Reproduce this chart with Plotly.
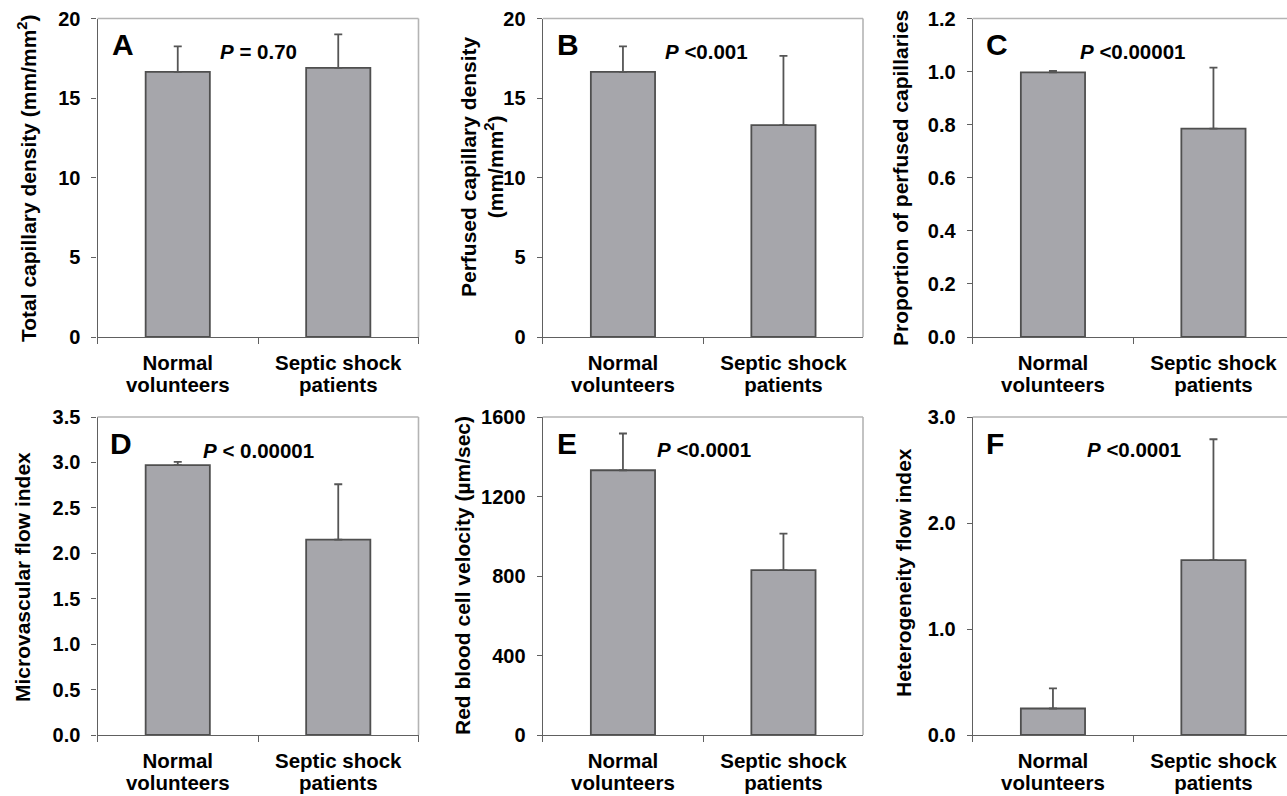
import plotly.graph_objects as go

categories = ["Normal<br>volunteers", "Septic shock<br>patients"]

panel_letters = ["A", "B", "C", "D", "E", "F"]
p_texts = ["<i>P</i> = 0.70", "<i>P</i> <0.001", "<i>P</i> <0.00001",
           "<i>P</i> < 0.00001", "<i>P</i> <0.0001", "<i>P</i> <0.0001"]
y_titles = ["Total capillary density (mm/mm<sup>2</sup>)",
            "Perfused capillary density<br>(mm/mm<sup>2</sup>)",
            "Proportion of perfused capillaries",
            "Microvascular flow index",
            "Red blood cell velocity (µm/sec)",
            "Heterogeneity flow index"]

means_A = [16.65, 16.9]
err_A = [1.6, 2.1]
means_B = [16.65, 13.3]
err_B = [1.6, 4.35]
means_C = [0.997, 0.785]
err_C = [0.006, 0.23]
means_D = [2.97, 2.15]
err_D = [0.035, 0.61]
means_E = [1332, 830]
err_E = [185, 183]
means_F = [0.25, 1.65]
err_F = [0.19, 1.14]

y_ranges = [[0, 20], [0, 20], [0, 1.2], [0, 3.5], [0, 1600], [0, 3.0]]
y_dticks = [5, 5, 0.2, 0.5, 400, 1.0]
y_formats = ["d", "d", ".1f", ".1f", "d", ".1f"]

means = [means_A, means_B, means_C, means_D, means_E, means_F]
errs = [err_A, err_B, err_C, err_D, err_E, err_F]

W, H = 1287, 796
# plot-area pixel boxes (left, right, top, bottom)
cols_px = [(97.5, 418.5), (542.7, 863.0), (972.7, 1287.0)]
rows_px = [(18.5, 337.0), (417.0, 735.0)]
cat_px = 160.5

title_x_px = [27, 482, 900, 22, 462, 903]
title_y_px = [178, 167, 178, 577, 576, 573]
p_dom = [(0.5, 0.895), (0.511, 0.895), (0.51, 0.895), (0.5, 0.896), (0.504, 0.899), (0.513, 0.899)]
letter_dom = [(0.08, 0.917), (0.079, 0.917), (0.076, 0.917), (0.074, 0.917), (0.075, 0.917), (0.072, 0.917)]

FONT = "Liberation Sans, Arial, sans-serif"


def xlabel(t):
    return "<br>".join('<span style="font-size:20.5px"><b>%s</b></span>' % s for s in t.split("<br>"))


fig = go.Figure()
layout = dict(width=W, height=H, margin=dict(l=0, r=0, t=0, b=0, autoexpand=False),
              paper_bgcolor="white", plot_bgcolor="white", showlegend=False)
annotations = []
shapes = []

for i in range(6):
    r, c = divmod(i, 3)
    xl, xr = cols_px[c]
    yt, yb = rows_px[r]
    xa = "xaxis" if i == 0 else f"xaxis{i+1}"
    ya = "yaxis" if i == 0 else f"yaxis{i+1}"
    xref = "x" if i == 0 else f"x{i+1}"
    yref = "y" if i == 0 else f"y{i+1}"
    fig.add_trace(go.Bar(
        x=categories, y=means[i], xaxis=xref, yaxis=yref, width=0.4,
        marker=dict(color="#a6a6ab", line=dict(color="#4f4f4f", width=1.8)),
        error_y=dict(type="data", array=errs[i], symmetric=False, arrayminus=[0, 0],
                     color="#555555", thickness=1.8, width=4),
    ))
    xmax = -0.5 + (xr - xl) / cat_px
    layout[xa] = dict(domain=[xl / W, xr / W], anchor=yref, type="category",
                      range=[-0.5, xmax], showline=True, linecolor="#606060", linewidth=1.2,
                      ticks="outside", tickson="boundaries", ticklen=6, tickcolor="#606060",
                      tickvals=categories, ticktext=[xlabel(t) for t in categories],
                      tickfont=dict(family=FONT, size=17, color="black"),
                      ticklabelstandoff=11, automargin=False,
                      showgrid=False, zeroline=False, fixedrange=True)
    layout[ya] = dict(domain=[1 - yb / H, 1 - yt / H], anchor=xref,
                      range=y_ranges[i], dtick=y_dticks[i], tick0=0, tickformat=y_formats[i],
                      showline=True, linecolor="#606060", linewidth=1.2,
                      ticks="outside", ticklen=5, tickcolor="#606060",
                      tickfont=dict(family=FONT, size=20, color="black", weight="bold"),
                      ticklabelstandoff=7, automargin=False,
                      showgrid=False, zeroline=False, fixedrange=True)
    # light frame top and right
    shapes.append(dict(type="line", xref=f"{xref} domain", yref=f"{yref} domain",
                       x0=0, x1=1, y0=1, y1=1, line=dict(color="#b4b4b4", width=1.6)))
    if c < 2:
        shapes.append(dict(type="line", xref=f"{xref} domain", yref=f"{yref} domain",
                           x0=1, x1=1, y0=0, y1=1, line=dict(color="#b4b4b4", width=1.6)))
    annotations.append(dict(text="<b>" + panel_letters[i] + "</b>", xref=f"{xref} domain",
                            yref=f"{yref} domain", x=letter_dom[i][0], y=letter_dom[i][1],
                            showarrow=False, font=dict(family=FONT, size=30, color="black"),
                            xanchor="center", yanchor="middle"))
    annotations.append(dict(text="<b>" + p_texts[i] + "</b>", xref=f"{xref} domain",
                            yref=f"{yref} domain", x=p_dom[i][0], y=p_dom[i][1],
                            showarrow=False, font=dict(family=FONT, size=20.5, color="black"),
                            xanchor="center", yanchor="middle"))
    annotations.append(dict(text="<b>" + y_titles[i] + "</b>", xref="paper", yref="paper",
                            x=title_x_px[i] / W, y=1 - title_y_px[i] / H, textangle=-90,
                            showarrow=False, font=dict(family=FONT, size=21, color="black"),
                            xanchor="center", yanchor="middle"))

layout["annotations"] = annotations
layout["shapes"] = shapes
fig.update_layout(**layout)
fig.write_html("out.html", config={"displayModeBar": False},
               post_script="document.body.style.margin='0';document.documentElement.style.overflow='hidden';")
